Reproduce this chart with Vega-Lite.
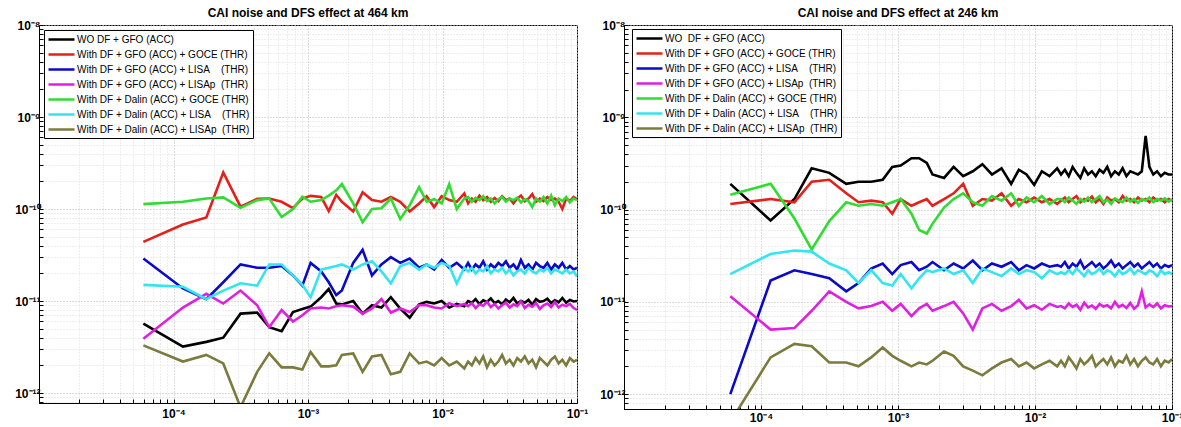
{
"$schema":"https://vega.github.io/schema/vega-lite/v6.json",
"padding":{"left":0,"top":6,"right":0,"bottom":0},
"background":"white",
"config":{"font":"Liberation Sans","view":{"stroke":"#000","strokeWidth":1},
"axis":{"domainColor":"#000","tickColor":"#000","labelColor":"#000","labelFont":"Liberation Sans","labelFontSize":12,"labelFontWeight":"bold","gridDash":[1,2],"gridWidth":1,"tickSize":-4,"labelOverlap":false,"labelFlush":false},
"title":{"font":"Liberation Sans","fontSize":12,"fontWeight":"bold","color":"#000","offset":-1},
"legend":{"labelFont":"Liberation Sans","labelFontSize":10,"labelColor":"#000","labelLimit":0,"strokeColor":"#000","fillColor":"#fff","padding":3,"rowPadding":3,"labelOffset":17,"symbolType":"M-1,0H4.2","symbolSize":100,"symbolStrokeWidth":2.5,"cornerRadius":0}},
"spacing":47,
"bounds":"flush",
"datasets":{
"L":[
{"f":5.97e-5,"k":5.7e-12,"r":4.4e-11,"b":2.9e-11,"m":3.9e-12,"g":1.13e-10,"c":1.5e-11,"o":3.3e-12},
{"f":1.175e-4,"k":3.2e-12,"r":6.8e-11,"b":1.37e-11,"m":8.5e-12,"g":1.2e-10,"c":1.43e-11,"o":2.2e-12},
{"f":1.754e-4,"k":3.6e-12,"r":8.1e-11,"b":1.05e-11,"m":1.2e-11,"g":1.3e-10,"c":1.05e-11,"o":2.6e-12},
{"f":2.344e-4,"k":4e-12,"r":2.5e-10,"b":1.6e-11,"m":9.4e-12,"g":1.34e-10,"c":1.3e-11,"o":2.1e-12},
{"f":3.15e-4,"k":7.3e-12,"r":1.06e-10,"b":2.5e-11,"m":1.3e-11,"g":1.03e-10,"c":1.56e-11,"o":7e-13},
{"f":4.19e-4,"k":7.5e-12,"r":1.29e-10,"b":2.3e-11,"m":9e-12,"g":1.25e-10,"c":1.47e-11,"o":1.7e-12},
{"f":5.15e-4,"k":5.2e-12,"r":1.3e-10,"b":2.3e-11,"m":5.2e-12,"g":1.3e-10,"c":2.5e-11,"o":2.7e-12},
{"f":6.37e-4,"k":4.7e-12,"r":1.2e-10,"b":2.4e-11,"m":8e-12,"g":8.2e-11,"c":2.5e-11,"o":1.9e-12},
{"f":7.73e-4,"k":7.6e-12,"r":1.02e-10,"b":1.9e-11,"m":6e-12,"g":1e-10,"c":1.9e-11,"o":1.9e-12},
{"f":9.08e-4,"k":8.2e-12,"r":1.3e-10,"b":1.47e-11,"m":7e-12,"g":1.36e-10,"c":1.5e-11,"o":1.8e-12},
{"f":1.046e-3,"k":8.7e-12,"r":1.39e-10,"b":2.6e-11,"m":8.3e-12,"g":1.2e-10,"c":1.1e-11,"o":2.8e-12},
{"f":1.254e-3,"k":1.1e-11,"r":1.35e-10,"b":2.1e-11,"m":8.5e-12,"g":1.25e-10,"c":2.2e-11,"o":1.95e-12},
{"f":1.426e-3,"k":1.35e-11,"r":9.5e-11,"b":1.6e-11,"m":8.3e-12,"g":1.4e-10,"c":2.3e-11,"o":1.95e-12},
{"f":1.622e-3,"k":9.4e-12,"r":1.42e-10,"b":1.16e-11,"m":8.8e-12,"g":1.6e-10,"c":2.4e-11,"o":2e-12},
{"f":1.786e-3,"k":9.2e-12,"r":1.2e-10,"b":1.3e-11,"m":9e-12,"g":1.87e-10,"c":2.5e-11,"o":2.6e-12},
{"f":2.168e-3,"k":1e-11,"r":9.4e-11,"b":2.6e-11,"m":8.7e-12,"g":1.15e-10,"c":2.2e-11,"o":2.7e-12},
{"f":2.547e-3,"k":7.3e-12,"r":1.52e-10,"b":3.6e-11,"m":7.3e-12,"g":7.2e-11,"c":2.5e-11,"o":1.7e-12},
{"f":2.99e-3,"k":9e-12,"r":1.25e-10,"b":1.9e-11,"m":8.3e-12,"g":1e-10,"c":2.7e-11,"o":2.5e-12},
{"f":3.515e-3,"k":8.5e-12,"r":1.2e-10,"b":2.5e-11,"m":1.05e-11,"g":1.02e-10,"c":2.1e-11,"o":2.6e-12},
{"f":4.13e-3,"k":1.1e-11,"r":1.35e-10,"b":3e-11,"m":7.5e-12,"g":1.3e-10,"c":1.56e-11,"o":1.6e-12},
{"f":4.85e-3,"k":8.3e-12,"r":1.2e-10,"b":2.6e-11,"m":8.3e-12,"g":7.8e-11,"c":2.4e-11,"o":1.7e-12},
{"f":5.7e-3,"k":6.6e-12,"r":9.4e-11,"b":2.9e-11,"m":7.6e-12,"g":1.1e-10,"c":2.6e-11,"o":2.7e-12},
{"f":6.7e-3,"k":9.2e-12,"r":1.15e-10,"b":2.3e-11,"m":9e-12,"g":1.73e-10,"c":2.2e-11,"o":2.1e-12},
{"f":7.62e-3,"k":9.8e-12,"r":1.38e-10,"b":2.5e-11,"m":9e-12,"g":1.2e-10,"c":2.5e-11,"o":2.2e-12},
{"f":8.67e-3,"k":9.4e-12,"r":1.05e-10,"b":2.2e-11,"m":8.5e-12,"g":1.28e-10,"c":2.3e-11,"o":2e-12},
{"f":9.86e-3,"k":1e-11,"r":1.38e-10,"b":2.8e-11,"m":8.3e-12,"g":1.15e-10,"c":2.6e-11,"o":2.4e-12},
{"f":1.122e-2,"k":8.5e-12,"r":1.25e-10,"b":2.3e-11,"m":9.5e-12,"g":1.86e-10,"c":2.4e-11,"o":2e-12},
{"f":1.276e-2,"k":9.3e-12,"r":1.2e-10,"b":2.6e-11,"m":8.8e-12,"g":1e-10,"c":1.56e-11,"o":2.2e-12},
{"f":1.452e-2,"k":8.8e-12,"r":1.48e-10,"b":2.2e-11,"m":9.3e-12,"g":1.3e-10,"c":2.3e-11,"o":1.85e-12},
{"f":1.549e-2,"k":1e-11,"r":1.15e-10,"b":2.6e-11,"m":8.8e-12,"g":1.35e-10,"c":2.1e-11,"o":2.2e-12},
{"f":1.652e-2,"k":9.6e-12,"r":1.3e-10,"b":2.2e-11,"m":9.5e-12,"g":1.2e-10,"c":2.3e-11,"o":2e-12},
{"f":1.762e-2,"k":1.05e-11,"r":1.2e-10,"b":2.5e-11,"m":8.4e-12,"g":1.32e-10,"c":2e-11,"o":2.4e-12},
{"f":1.882e-2,"k":9.3e-12,"r":1.4e-10,"b":2.3e-11,"m":9.2e-12,"g":1.25e-10,"c":2.2e-11,"o":2.1e-12},
{"f":2.008e-2,"k":1.02e-11,"r":1.25e-10,"b":2.7e-11,"m":8.9e-12,"g":1.38e-10,"c":2.1e-11,"o":2.5e-12},
{"f":2.143e-2,"k":9.8e-12,"r":1.35e-10,"b":2.2e-11,"m":9.8e-12,"g":1.22e-10,"c":2.4e-11,"o":1.9e-12},
{"f":2.286e-2,"k":1.07e-11,"r":1.2e-10,"b":2.5e-11,"m":8.6e-12,"g":1.3e-10,"c":2e-11,"o":2.3e-12},
{"f":2.439e-2,"k":9.5e-12,"r":1.32e-10,"b":2.3e-11,"m":9.3e-12,"g":1.15e-10,"c":2.2e-11,"o":2e-12},
{"f":2.602e-2,"k":1e-11,"r":1.22e-10,"b":2.6e-11,"m":8.3e-12,"g":1.28e-10,"c":2.1e-11,"o":2.2e-12},
{"f":2.775e-2,"k":9.2e-12,"r":1.38e-10,"b":2.4e-11,"m":9e-12,"g":1.35e-10,"c":2.3e-11,"o":2.6e-12},
{"f":2.96e-2,"k":1.04e-11,"r":1.25e-10,"b":2.7e-11,"m":9.6e-12,"g":1.2e-10,"c":2e-11,"o":2.1e-12},
{"f":3.157e-2,"k":9.7e-12,"r":1.3e-10,"b":2.3e-11,"m":8.5e-12,"g":1.3e-10,"c":2.2e-11,"o":2.3e-12},
{"f":3.368e-2,"k":1.08e-11,"r":1.15e-10,"b":2.5e-11,"m":9.2e-12,"g":1.25e-10,"c":1.9e-11,"o":2e-12},
{"f":3.593e-2,"k":9.4e-12,"r":1.3e-10,"b":2.2e-11,"m":8.8e-12,"g":1.33e-10,"c":2.1e-11,"o":2.4e-12},
{"f":3.83e-2,"k":1e-11,"r":1.4e-10,"b":2.8e-11,"m":9.9e-12,"g":1.18e-10,"c":2.2e-11,"o":2.2e-12},
{"f":4.09e-2,"k":9.6e-12,"r":1.22e-10,"b":2.3e-11,"m":8.4e-12,"g":1.28e-10,"c":2e-11,"o":2.5e-12},
{"f":4.36e-2,"k":1.03e-11,"r":1.3e-10,"b":2.5e-11,"m":9.1e-12,"g":1.22e-10,"c":2.3e-11,"o":2.1e-12},
{"f":4.65e-2,"k":9.1e-12,"r":1.45e-10,"b":2.2e-11,"m":8.7e-12,"g":1.05e-10,"c":2.1e-11,"o":2.3e-12},
{"f":4.96e-2,"k":1.05e-11,"r":1.2e-10,"b":2.6e-11,"m":9.5e-12,"g":1.3e-10,"c":2e-11,"o":1.9e-12},
{"f":5.29e-2,"k":9.8e-12,"r":1.3e-10,"b":2.4e-11,"m":8.2e-12,"g":1.2e-10,"c":2.2e-11,"o":2.4e-12},
{"f":5.64e-2,"k":1e-11,"r":1.22e-10,"b":2.3e-11,"m":9e-12,"g":1.35e-10,"c":2.1e-11,"o":2.2e-12},
{"f":6.02e-2,"k":1.06e-11,"r":1.35e-10,"b":2.6e-11,"m":9.4e-12,"g":1.15e-10,"c":2.3e-11,"o":2e-12},
{"f":6.42e-2,"k":9.5e-12,"r":1.25e-10,"b":2.2e-11,"m":8.6e-12,"g":1.4e-10,"c":2e-11,"o":2.3e-12},
{"f":6.84e-2,"k":1.02e-11,"r":1.3e-10,"b":2.5e-11,"m":9.7e-12,"g":1.1e-10,"c":2.2e-11,"o":2.5e-12},
{"f":7.3e-2,"k":9.7e-12,"r":1.2e-10,"b":2.3e-11,"m":8.5e-12,"g":1.3e-10,"c":2.1e-11,"o":2.1e-12},
{"f":7.78e-2,"k":1.08e-11,"r":1e-10,"b":2.6e-11,"m":9.1e-12,"g":1.22e-10,"c":2e-11,"o":2.3e-12},
{"f":8.3e-2,"k":9.6e-12,"r":1.3e-10,"b":2.2e-11,"m":8.8e-12,"g":1.35e-10,"c":2.2e-11,"o":2e-12},
{"f":8.85e-2,"k":1.03e-11,"r":1.22e-10,"b":2.4e-11,"m":9.3e-12,"g":1.18e-10,"c":2e-11,"o":2.4e-12},
{"f":9.44e-2,"k":9.9e-12,"r":1.35e-10,"b":2.2e-11,"m":8.4e-12,"g":1.3e-10,"c":2.1e-11,"o":2.2e-12},
{"f":0.1,"k":1e-11,"r":1.28e-10,"b":2.3e-11,"m":8e-12,"g":1.25e-10,"c":1.85e-11,"o":2.3e-12}
],
"R":[
{"f":5.97e-5,"k":1.9e-10,"r":1.15e-10,"b":1e-12,"m":1.15e-11,"g":1.45e-10,"c":2e-11,"o":5e-13},
{"f":1.175e-4,"k":7.6e-11,"r":1.3e-10,"b":1.7e-11,"m":5e-12,"g":1.9e-10,"c":3.3e-11,"o":2.5e-12},
{"f":1.754e-4,"k":1.3e-10,"r":1.2e-10,"b":2.2e-11,"m":5.2e-12,"g":8e-11,"c":3.6e-11,"o":3.5e-12},
{"f":2.344e-4,"k":2.8e-10,"r":2e-10,"b":2e-11,"m":8e-12,"g":3.7e-11,"c":3.5e-11,"o":3.3e-12},
{"f":3.15e-4,"k":2.5e-10,"r":2.1e-10,"b":1.8e-11,"m":1.3e-11,"g":7.5e-11,"c":2.6e-11,"o":2.2e-12},
{"f":4.19e-4,"k":1.9e-10,"r":1.5e-10,"b":1.3e-11,"m":1e-11,"g":1.2e-10,"c":2.2e-11,"o":2.2e-12},
{"f":5.15e-4,"k":2e-10,"r":1.2e-10,"b":1.6e-11,"m":8.5e-12,"g":1.1e-10,"c":1.6e-11,"o":2e-12},
{"f":6.37e-4,"k":2e-10,"r":1.25e-10,"b":2.3e-11,"m":9e-12,"g":1.15e-10,"c":2.2e-11,"o":2.5e-12},
{"f":7.73e-4,"k":2.1e-10,"r":1.2e-10,"b":2.6e-11,"m":1e-11,"g":1.1e-10,"c":1.6e-11,"o":3.2e-12},
{"f":9.08e-4,"k":2.9e-10,"r":9e-11,"b":2e-11,"m":8e-12,"g":1.2e-10,"c":1.5e-11,"o":2.6e-12},
{"f":1.046e-3,"k":3e-10,"r":1.3e-10,"b":2.5e-11,"m":9.5e-12,"g":1.3e-10,"c":2e-11,"o":2.3e-12},
{"f":1.254e-3,"k":3.6e-10,"r":1.1e-10,"b":2.7e-11,"m":7e-12,"g":9e-11,"c":1.4e-11,"o":2e-12},
{"f":1.426e-3,"k":3.6e-10,"r":1.2e-10,"b":2.2e-11,"m":8.5e-12,"g":6e-11,"c":1.8e-11,"o":2.2e-12},
{"f":1.622e-3,"k":3.2e-10,"r":1.3e-10,"b":2.4e-11,"m":9.5e-12,"g":5.5e-11,"c":2.2e-11,"o":2.1e-12},
{"f":1.786e-3,"k":2.4e-10,"r":1.1e-10,"b":2.7e-11,"m":8e-12,"g":7e-11,"c":2.1e-11,"o":2.3e-12},
{"f":2.168e-3,"k":2.2e-10,"r":1.3e-10,"b":2.2e-11,"m":9e-12,"g":1.05e-10,"c":2.3e-11,"o":2.9e-12},
{"f":2.547e-3,"k":2.9e-10,"r":1.5e-10,"b":2.6e-11,"m":1e-11,"g":1.3e-10,"c":2e-11,"o":2.6e-12},
{"f":2.99e-3,"k":2.3e-10,"r":1.9e-10,"b":2.3e-11,"m":7.5e-12,"g":1.5e-10,"c":2.2e-11,"o":2e-12},
{"f":3.515e-3,"k":2.6e-10,"r":1.1e-10,"b":2.8e-11,"m":5e-12,"g":1.2e-10,"c":1.6e-11,"o":1.8e-12},
{"f":4.13e-3,"k":3.1e-10,"r":1.3e-10,"b":2.2e-11,"m":8.5e-12,"g":1.1e-10,"c":2.3e-11,"o":1.6e-12},
{"f":4.85e-3,"k":2.4e-10,"r":1.25e-10,"b":2.6e-11,"m":9.5e-12,"g":1.4e-10,"c":2.1e-11,"o":1.9e-12},
{"f":5.7e-3,"k":2.8e-10,"r":1.5e-10,"b":2.4e-11,"m":8e-12,"g":1.25e-10,"c":1.9e-11,"o":2.2e-12},
{"f":6.7e-3,"k":1.9e-10,"r":1.1e-10,"b":2.7e-11,"m":9e-12,"g":1.5e-10,"c":2.3e-11,"o":2.4e-12},
{"f":7.62e-3,"k":2.7e-10,"r":1.3e-10,"b":2.2e-11,"m":1.05e-11,"g":1.1e-10,"c":2e-11,"o":2e-12},
{"f":8.67e-3,"k":2.4e-10,"r":1.2e-10,"b":2.5e-11,"m":8.5e-12,"g":1.35e-10,"c":2.2e-11,"o":2.2e-12},
{"f":9.86e-3,"k":1.85e-10,"r":1.35e-10,"b":2.3e-11,"m":9.2e-12,"g":1.2e-10,"c":2.1e-11,"o":1.9e-12},
{"f":1.122e-2,"k":2.6e-10,"r":1.2e-10,"b":2.6e-11,"m":8.2e-12,"g":1.4e-10,"c":1.8e-11,"o":2.1e-12},
{"f":1.276e-2,"k":2.3e-10,"r":1.3e-10,"b":2.4e-11,"m":9.5e-12,"g":1.15e-10,"c":2.2e-11,"o":2.3e-12},
{"f":1.452e-2,"k":2.8e-10,"r":1.15e-10,"b":2.5e-11,"m":8.8e-12,"g":1.3e-10,"c":2e-11,"o":2e-12},
{"f":1.549e-2,"k":2.4e-10,"r":1.25e-10,"b":2.4e-11,"m":9e-12,"g":1.3e-10,"c":2.1e-11,"o":2.3e-12},
{"f":1.652e-2,"k":2.7e-10,"r":1.35e-10,"b":2.7e-11,"m":8.5e-12,"g":1.2e-10,"c":2e-11,"o":2e-12},
{"f":1.762e-2,"k":2.3e-10,"r":1.2e-10,"b":2.3e-11,"m":9.6e-12,"g":1.35e-10,"c":2.2e-11,"o":2.5e-12},
{"f":1.882e-2,"k":2.9e-10,"r":1.3e-10,"b":2.6e-11,"m":8.8e-12,"g":1.25e-10,"c":2e-11,"o":2.2e-12},
{"f":2.008e-2,"k":2.5e-10,"r":1.4e-10,"b":2.4e-11,"m":9.3e-12,"g":1.15e-10,"c":2.3e-11,"o":1.9e-12},
{"f":2.143e-2,"k":2.2e-10,"r":1.2e-10,"b":2.8e-11,"m":8.2e-12,"g":1.3e-10,"c":2.1e-11,"o":2.4e-12},
{"f":2.286e-2,"k":2.8e-10,"r":1.3e-10,"b":2.3e-11,"m":9.8e-12,"g":1.22e-10,"c":1.9e-11,"o":2.1e-12},
{"f":2.439e-2,"k":2.4e-10,"r":1.25e-10,"b":2.5e-11,"m":8.7e-12,"g":1.35e-10,"c":2.2e-11,"o":2.3e-12},
{"f":2.602e-2,"k":2.6e-10,"r":1.38e-10,"b":2.7e-11,"m":9.1e-12,"g":1.2e-10,"c":2e-11,"o":2.6e-12},
{"f":2.775e-2,"k":2.3e-10,"r":1.2e-10,"b":2.4e-11,"m":8.4e-12,"g":1.3e-10,"c":2.1e-11,"o":2e-12},
{"f":2.96e-2,"k":2.7e-10,"r":1.3e-10,"b":2.6e-11,"m":9.5e-12,"g":1.4e-10,"c":2.3e-11,"o":2.2e-12},
{"f":3.157e-2,"k":2.5e-10,"r":1.15e-10,"b":2.3e-11,"m":8.9e-12,"g":1.2e-10,"c":2e-11,"o":2.4e-12},
{"f":3.368e-2,"k":2.9e-10,"r":1.35e-10,"b":2.5e-11,"m":9.2e-12,"g":1.28e-10,"c":2.2e-11,"o":2.1e-12},
{"f":3.593e-2,"k":2.3e-10,"r":1.25e-10,"b":2.8e-11,"m":8.5e-12,"g":1.15e-10,"c":2.1e-11,"o":2.5e-12},
{"f":3.83e-2,"k":2.6e-10,"r":1.3e-10,"b":2.4e-11,"m":1e-11,"g":1.32e-10,"c":1.9e-11,"o":2e-12},
{"f":4.09e-2,"k":2.4e-10,"r":1.2e-10,"b":2.6e-11,"m":8.8e-12,"g":1.25e-10,"c":2.2e-11,"o":2.3e-12},
{"f":4.36e-2,"k":2.8e-10,"r":1.4e-10,"b":2.3e-11,"m":9.3e-12,"g":1.2e-10,"c":2e-11,"o":2.2e-12},
{"f":4.65e-2,"k":2.3e-10,"r":1.25e-10,"b":2.5e-11,"m":8.6e-12,"g":1.35e-10,"c":2.1e-11,"o":2.6e-12},
{"f":4.96e-2,"k":2.6e-10,"r":1.3e-10,"b":2.7e-11,"m":9.7e-12,"g":1.22e-10,"c":2.3e-11,"o":2.1e-12},
{"f":5.29e-2,"k":2.5e-10,"r":1.2e-10,"b":2.4e-11,"m":8.4e-12,"g":1.3e-10,"c":2e-11,"o":2.4e-12},
{"f":5.64e-2,"k":2.4e-10,"r":1.35e-10,"b":2.6e-11,"m":9.2e-12,"g":1.18e-10,"c":2.2e-11,"o":2e-12},
{"f":6.02e-2,"k":2.6e-10,"r":1.25e-10,"b":2.3e-11,"m":1.3e-11,"g":1.3e-10,"c":2.1e-11,"o":2.3e-12},
{"f":6.42e-2,"k":6.3e-10,"r":1.3e-10,"b":2.5e-11,"m":8.7e-12,"g":1.25e-10,"c":2e-11,"o":2.5e-12},
{"f":6.84e-2,"k":2.9e-10,"r":1.2e-10,"b":2.7e-11,"m":9.4e-12,"g":1.35e-10,"c":2.2e-11,"o":2.2e-12},
{"f":7.3e-2,"k":2.4e-10,"r":1.35e-10,"b":2.4e-11,"m":8.8e-12,"g":1.2e-10,"c":2.1e-11,"o":2.1e-12},
{"f":7.78e-2,"k":2.6e-10,"r":1.25e-10,"b":2.6e-11,"m":9.6e-12,"g":1.3e-10,"c":1.9e-11,"o":2.4e-12},
{"f":8.3e-2,"k":2.3e-10,"r":1.3e-10,"b":2.3e-11,"m":8.5e-12,"g":1.25e-10,"c":2.2e-11,"o":2e-12},
{"f":8.85e-2,"k":2.5e-10,"r":1.2e-10,"b":2.5e-11,"m":9.2e-12,"g":1.32e-10,"c":2e-11,"o":2.3e-12},
{"f":9.44e-2,"k":2.4e-10,"r":1.3e-10,"b":2.4e-11,"m":8.9e-12,"g":1.22e-10,"c":2.1e-11,"o":2.2e-12},
{"f":0.1,"k":2.4e-10,"r":1.25e-10,"b":2.5e-11,"m":9e-12,"g":1.3e-10,"c":2e-11,"o":2.4e-12}
]},
"hconcat":[
{"width":538,"height":378,
"title":{"text":"CAI noise and DFS effect at 464 km"},
"data":{"name":"L"},
"transform":[{"fold":["k","r","b","m","g","c","o"],"as":["s","v"]}],
"mark":{"type":"line","strokeWidth":2.6,"clip":true},
"encoding":{
"x":{"field":"f","type":"quantitative","scale":{"type":"log","domain":[1e-5,0.1],"nice":false},
"axis":{"title":null,"values":[2e-5,3e-5,4e-5,5e-5,6e-5,7e-5,8e-5,9e-5,1e-4,2e-4,3e-4,4e-4,5e-4,6e-4,7e-4,8e-4,9e-4,1e-3,2e-3,3e-3,4e-3,5e-3,6e-3,7e-3,8e-3,9e-3,0.01,0.02,0.03,0.04,0.05,0.06,0.07,0.08,0.09,0.1],
"labelExpr":"abs(log(datum.value)/LN10-round(log(datum.value)/LN10))>0.01?'':'10⁻'+(round(-log(datum.value)/LN10)>=10?'¹'+substring('⁰¹²³⁴⁵⁶⁷⁸⁹',round(-log(datum.value)/LN10)-10,round(-log(datum.value)/LN10)-9):substring('⁰¹²³⁴⁵⁶⁷⁸⁹',round(-log(datum.value)/LN10),round(-log(datum.value)/LN10)+1))",
"gridColor":{"condition":{"test":"abs(log(datum.value)/LN10-round(log(datum.value)/LN10))<0.01","value":"#b8b8b8"},"value":"#dcdcdc"},"labelPadding":9}},
"y":{"field":"v","type":"quantitative","scale":{"type":"log","domain":[7.8e-13,1e-8],"nice":false},
"axis":{"title":null,"minExtent":38,"maxExtent":38,"values":[8e-13,9e-13,1e-12,2e-12,3e-12,4e-12,5e-12,6e-12,7e-12,8e-12,9e-12,1e-11,2e-11,3e-11,4e-11,5e-11,6e-11,7e-11,8e-11,9e-11,1e-10,2e-10,3e-10,4e-10,5e-10,6e-10,7e-10,8e-10,9e-10,1e-9,2e-9,3e-9,4e-9,5e-9,6e-9,7e-9,8e-9,9e-9,1e-8],
"labelExpr":"abs(log(datum.value)/LN10-round(log(datum.value)/LN10))>0.01?'':'10⁻'+(round(-log(datum.value)/LN10)>=10?'¹'+substring('⁰¹²³⁴⁵⁶⁷⁸⁹',round(-log(datum.value)/LN10)-10,round(-log(datum.value)/LN10)-9):substring('⁰¹²³⁴⁵⁶⁷⁸⁹',round(-log(datum.value)/LN10),round(-log(datum.value)/LN10)+1))",
"gridColor":{"condition":{"test":"abs(log(datum.value)/LN10-round(log(datum.value)/LN10))<0.01","value":"#b8b8b8"},"value":"#dcdcdc"},"labelPadding":3}},
"color":{"field":"s","type":"nominal","scale":{"domain":["k","r","b","m","g","c","o"],"range":["#000000","#e3201b","#0a0ac8","#e020e0","#2fdc2f","#33e5ef","#7b7b3d"]},
"legend":{"title":null,"orient":"none","legendX":5,"legendY":5,
"labelExpr":"datum.label=='k'?'WO DF + GFO (ACC)':datum.label=='r'?'With DF + GFO (ACC) + GOCE (THR)':datum.label=='b'?'With DF + GFO (ACC) + LISA\u00a0\u00a0\u00a0\u00a0(THR)':datum.label=='m'?'With DF + GFO (ACC) + LISAp\u00a0\u00a0(THR)':datum.label=='g'?'With DF + Dalin (ACC) + GOCE (THR)':datum.label=='c'?'With DF + Dalin (ACC) + LISA\u00a0\u00a0\u00a0\u00a0(THR)':'With DF + Dalin (ACC) + LISAp\u00a0\u00a0(THR)'"}}
}},
{"width":548,"height":384,
"title":{"text":"CAI noise and DFS effect at 246 km"},
"data":{"name":"R"},
"transform":[{"fold":["k","r","b","m","g","c","o"],"as":["s","v"]}],
"mark":{"type":"line","strokeWidth":2.6,"clip":true},
"encoding":{
"x":{"field":"f","type":"quantitative","scale":{"type":"log","domain":[1e-5,0.1],"nice":false},
"axis":{"title":null,"values":[2e-5,3e-5,4e-5,5e-5,6e-5,7e-5,8e-5,9e-5,1e-4,2e-4,3e-4,4e-4,5e-4,6e-4,7e-4,8e-4,9e-4,1e-3,2e-3,3e-3,4e-3,5e-3,6e-3,7e-3,8e-3,9e-3,0.01,0.02,0.03,0.04,0.05,0.06,0.07,0.08,0.09,0.1],
"labelExpr":"abs(log(datum.value)/LN10-round(log(datum.value)/LN10))>0.01?'':'10⁻'+(round(-log(datum.value)/LN10)>=10?'¹'+substring('⁰¹²³⁴⁵⁶⁷⁸⁹',round(-log(datum.value)/LN10)-10,round(-log(datum.value)/LN10)-9):substring('⁰¹²³⁴⁵⁶⁷⁸⁹',round(-log(datum.value)/LN10),round(-log(datum.value)/LN10)+1))",
"gridColor":{"condition":{"test":"abs(log(datum.value)/LN10-round(log(datum.value)/LN10))<0.01","value":"#b8b8b8"},"value":"#dcdcdc"},"labelPadding":7}},
"y":{"field":"v","type":"quantitative","scale":{"type":"log","domain":[6.9e-13,1e-8],"nice":false},
"axis":{"title":null,"minExtent":38,"maxExtent":38,"values":[8e-13,9e-13,1e-12,2e-12,3e-12,4e-12,5e-12,6e-12,7e-12,8e-12,9e-12,1e-11,2e-11,3e-11,4e-11,5e-11,6e-11,7e-11,8e-11,9e-11,1e-10,2e-10,3e-10,4e-10,5e-10,6e-10,7e-10,8e-10,9e-10,1e-9,2e-9,3e-9,4e-9,5e-9,6e-9,7e-9,8e-9,9e-9,1e-8],
"labelExpr":"abs(log(datum.value)/LN10-round(log(datum.value)/LN10))>0.01?'':'10⁻'+(round(-log(datum.value)/LN10)>=10?'¹'+substring('⁰¹²³⁴⁵⁶⁷⁸⁹',round(-log(datum.value)/LN10)-10,round(-log(datum.value)/LN10)-9):substring('⁰¹²³⁴⁵⁶⁷⁸⁹',round(-log(datum.value)/LN10),round(-log(datum.value)/LN10)+1))",
"gridColor":{"condition":{"test":"abs(log(datum.value)/LN10-round(log(datum.value)/LN10))<0.01","value":"#b8b8b8"},"value":"#dcdcdc"},"labelPadding":3}},
"color":{"field":"s","type":"nominal","scale":{"domain":["k","r","b","m","g","c","o"],"range":["#000000","#e3201b","#0a0ac8","#e020e0","#2fdc2f","#33e5ef","#7b7b3d"]},
"legend":{"title":null,"orient":"none","legendX":8,"legendY":4,
"labelExpr":"datum.label=='k'?'WO\u00a0\u00a0DF + GFO (ACC)':datum.label=='r'?'With DF + GFO (ACC) + GOCE (THR)':datum.label=='b'?'With DF + GFO (ACC) + LISA\u00a0\u00a0\u00a0\u00a0(THR)':datum.label=='m'?'With DF + GFO (ACC) + LISAp\u00a0\u00a0(THR)':datum.label=='g'?'With DF + Dalin (ACC) + GOCE (THR)':datum.label=='c'?'With DF + Dalin (ACC) + LISA\u00a0\u00a0\u00a0\u00a0(THR)':'With DF + Dalin (ACC) + LISAp\u00a0\u00a0(THR)'"}}
}}
],
"resolve":{"scale":{"color":"independent"}}
}
